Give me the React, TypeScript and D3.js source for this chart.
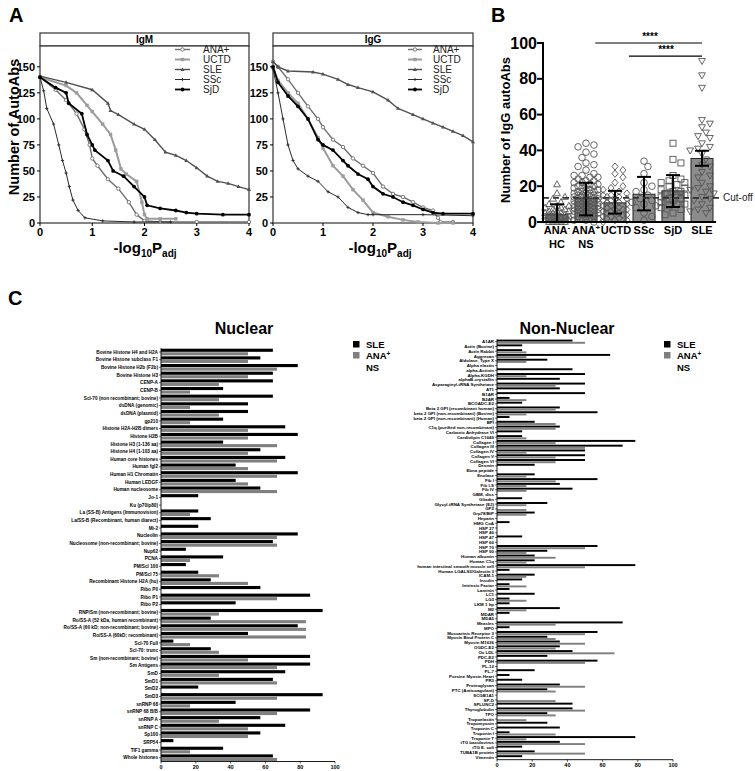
import React from "react";
import * as d3 from "d3";

const FONT = "'Liberation Sans', Arial, Helvetica, sans-serif";

// ---------------- Panel A data ----------------
const curveNames = ["ANA+", "UCTD", "SLE", "SSc", "SjD"];
const igmANA: [number, number][] = [[0,140],[0.3,128],[0.5,118],[0.7,105],[0.85,90],[0.95,75],[1.0,62],[1.1,55],[1.3,42],[1.5,33],[1.7,20],[1.85,8],[2.0,2],[2.3,1],[3.0,1],[4.0,1]];
const igmUCTD: [number, number][] = [[0,140],[0.5,132],[0.7,125],[0.9,113],[1.0,107],[1.2,95],[1.35,85],[1.45,70],[1.55,52],[1.65,47],[1.85,40],[1.95,20],[2.0,8],[2.05,4],[2.3,4],[2.6,4]];
const igmSLE: [number, number][] = [[0,141],[0.5,135],[1.0,128],[1.3,115],[1.35,108],[1.5,104],[1.8,95],[2.0,90],[2.2,80],[2.4,68],[2.6,65],[2.8,60],[3.0,53],[3.2,45],[3.4,40],[3.6,38],[3.8,35],[4.0,32]];
const igmSSc: [number, number][] = [[0,140],[0.07,127],[0.13,110],[0.26,95],[0.36,75],[0.43,60],[0.5,48],[0.56,35],[0.63,22],[0.73,12],[0.86,5],[1.2,2],[1.8,1],[2.5,1]];
const igmSjD: [number, number][] = [[0,140],[0.3,130],[0.5,125],[0.55,115],[0.8,105],[0.9,85],[1.0,75],[1.05,70],[1.3,60],[1.4,50],[1.6,45],[1.8,35],[2.0,25],[2.05,17],[2.3,14],[2.6,12],[2.8,10],[3.0,9],[3.5,8],[4.0,8]];

const iggANA: [number, number][] = [[0,155],[0.1,150],[0.3,138],[0.5,125],[0.7,112],[0.9,100],[1.0,92],[1.2,80],[1.4,73],[1.6,62],[1.8,55],[2.0,48],[2.2,35],[2.4,28],[2.6,25],[2.8,20],[3.0,15],[3.2,12],[3.3,5],[3.35,1],[3.6,1]];
const iggUCTD: [number, number][] = [[0,150],[0.1,137],[0.3,125],[0.5,115],[0.7,100],[0.9,82],[1.0,72],[1.2,55],[1.4,45],[1.6,32],[1.8,22],[2.0,10],[2.3,6],[2.6,3],[2.9,1],[3.3,0],[3.6,0]];
const iggSLE: [number, number][] = [[0,155],[0.1,150],[0.3,146],[0.8,145],[1.0,143],[1.3,138],[1.5,133],[1.7,130],[2.0,126],[2.3,118],[2.5,110],[2.8,104],[3.0,100],[3.2,96],[3.4,92],[3.6,88],[3.8,84],[4.0,78]];
const iggSSc: [number, number][] = [[0,148],[0.1,125],[0.2,100],[0.3,75],[0.4,60],[0.5,52],[0.7,45],[0.9,40],[1.1,30],[1.3,25],[1.5,15],[1.7,10],[1.9,8],[2.0,8],[3.0,8],[4.0,7]];
const iggSjD: [number, number][] = [[0,150],[0.1,135],[0.3,122],[0.5,112],[0.7,100],[0.9,80],[1.0,75],[1.2,70],[1.4,60],[1.5,55],[1.7,47],[1.9,42],[2.0,35],[2.2,28],[2.4,25],[2.6,20],[2.8,17],[3.0,13],[3.2,10],[3.4,9],[4.0,9]];

const aTicksY = [0, 25, 50, 75, 100, 125, 150];
const aTicksX = [0, 1, 2, 3, 4];

// ---------------- Panel B data ----------------
const bGroups = ["ANA-HC", "ANA+NS", "UCTD", "SSc", "SjD", "SLE"];
const bMeans = [4.1, 13.1, 10.7, 15.5, 17.4, 35.5];
const bLow = [0, 3.7, 4.7, 6.5, 8.4, 31.4];
const bHigh = [9.9, 21.9, 17.4, 25.2, 26.2, 39.8];
const bHC = [21, 16, 14, 13, 11, 10, 9, 9, 8, 8, 7, 7, 6, 6, 6, 5, 5, 5, 4, 4, 4, 3, 3, 3, 3, 2, 2, 2, 2, 1, 1, 1, 1, 0, 0, 0, 0, 0];
const bNS = [44, 43, 42, 39, 38, 36, 33, 32, 31, 29, 27, 26, 26, 25, 25, 24, 23, 23, 22, 22, 21, 21, 20, 20, 20, 19, 19, 18, 18, 18, 17, 17, 17, 16, 16, 16, 15, 15, 15, 15, 14, 14, 14, 14, 13, 13, 13, 13, 12, 12, 12, 12, 11, 11, 11, 11, 10, 10, 10, 10, 9, 9, 9, 9, 8, 8, 8, 8, 7, 7, 7, 7, 6, 6, 6, 6, 5, 5, 5, 5, 4, 4, 4, 3, 3, 3, 2, 2, 2, 1, 1, 0];
const bUCTD = [31, 29, 27, 25, 22, 20, 19, 18, 17, 16, 15, 15, 14, 14, 13, 13, 12, 12, 11, 11, 10, 10, 9, 9, 8, 8, 7, 7, 7, 6, 6, 5, 5, 5, 4, 4, 3, 3, 2, 2, 1, 1, 0];
const bSSc = [34, 31, 27, 22, 20, 18, 17, 15, 13, 12, 11, 10, 9, 8, 5, 3, 1];
const bSjD = [44, 35, 33, 26, 24, 23, 22, 22, 21, 20, 19, 18, 17, 17, 16, 15, 15, 14, 13, 13, 12, 11, 10, 10, 9, 8, 7, 5, 4];
const bSLE = [90, 82, 75, 57, 55, 53, 50, 48, 47, 44, 42, 41, 40, 38, 35, 32, 31, 28, 26, 25, 22, 20, 19, 18, 17, 16, 14, 13, 12, 10, 8, 7, 6, 5];
const bTicks = [0, 20, 40, 60, 80, 100];
const bCutoff = 13.5;

// ---------------- Panel C data ----------------
const nucLabels = [
  "Bovine Histone H4 and H2A", "Bovine Histone subclass F1", "Bovine Histone H2b (F2b)", "Bovine Histone H3",
  "CENP-A", "CENP-B", "Scl-70 (non recombinant; bovine)", "dsDNA (genomic)", "dsDNA (plasmid)", "gp210",
  "Histone H2A-H2B dimers", "Histone H2B", "Histone H3 (1-136 aa)", "Histone H4 (1-103 aa)", "Human core histones",
  "Human fgl2", "Human H1 Chromatin", "Human LEDGF", "Human nucleosome", "Jo-1", "Ku (p70/p80)",
  "La (SS-B) Antigens (Immunovision)", "La/SS-B (Recombinant, human diarect)", "Mi-2", "Nucleolin",
  "Nucleosome (non-recombinant; bovine)", "Nup62", "PCNA", "PM/Scl 100", "PM/Scl 75", "Recombinant Histone H2A (hu)",
  "Ribo P0", "Ribo P1", "Ribo P2", "RNP/Sm (non-recombinant; bovine)", "Ro/SS-A (52 kDa, human recombinant)",
  "Ro/SS-A (60 kD; non-recombinant; bovine)", "Ro/SS-A (60kD; recombinant)", "Scl-70 Full", "Scl-70: trunc",
  "Sm (non-recombinant; bovine)", "Sm Antigens", "SmD", "SmD1", "SmD2", "SmD3", "snRNP 68", "snRNP 68 B/B",
  "snRNP A", "snRNP C", "Sp100", "SRP54", "TIF1 gamma", "Whole histones",
];
const nucSLE = [64.3, 57.1, 78.6, 64.3, 64.3, 35.7, 64.3, 50, 50, 35.7, 71.4, 78.6, 35.7, 57.1, 71.4, 42.9, 78.6, 42.9, 57.1, 21.4, 0, 21.4, 28.6, 21.4, 78.6, 64.3, 14.3, 35.7, 14.3, 21.4, 28.6, 57.1, 85.7, 42.9, 92.9, 28.6, 78.6, 50, 7.1, 28.6, 85.7, 85.7, 71.4, 64.3, 21.4, 92.9, 42.9, 85.7, 57.1, 71.4, 57.1, 7.1, 35.7, 64.3];
const nucANA = [50, 50, 66.7, 50, 33.3, 16.7, 33.3, 16.7, 33.3, 16.7, 50, 50, 66.7, 50, 66.7, 50, 66.7, 50, 66.7, 0, 0, 16.7, 0, 0, 66.7, 66.7, 0, 16.7, 0, 33.3, 50, 0, 66.7, 0, 33.3, 83.3, 83.3, 83.3, 16.7, 33.3, 50, 66.7, 33.3, 66.7, 0, 66.7, 16.7, 66.7, 33.3, 50, 50, 0, 16.7, 66.7];

const nonLabels = [
  "A1AR", "Actin (Bovine)", "Actin Rabbit", "Aggrecan", "Aldolase, Type X", "Alpha elastin", "alpha-Actinin",
  "Alpha-KGDH", "alphaB-crystallin", "Asparaginyl-tRNA Synthetase", "AT1", "B1AR", "B2AR", "BCOADC-E2",
  "Beta 2 GPI (recombinant human)", "beta 2 GPI (non-recombinant) (Bovine)", "beta 2 GPI (non-recombinant) (Human)",
  "BPI", "C1q (purified non-recombinant)", "Carbonic Anhydrase VI", "Cardiolipin C1649", "Collagen I", "Collagen III",
  "Collagen IV", "Collagen V", "Collagen VI", "Desmin", "Ebna peptide", "Enolase", "Fib I", "Fib I-S", "Fib IV",
  "GBM, diss", "Gliadin", "Glycyl-tRNA Synthetase (EJ)", "GP2", "Grp78/BiP", "Heparin", "HMG CoA", "HSP 27",
  "HSP 40", "HSP 47", "HSP 60", "HSP 70", "HSP 90", "Human albumin", "Human C1q", "human intestinal smooth muscle cell",
  "Human LGALS3/Galectin 3", "ICAM-1", "Insulin", "Intrinsic Factor", "Laminin", "LC1", "LG3", "LKM 1 hp", "M2",
  "MDAR", "MDA5", "Measles", "MPO", "Muscarinic Receptor 3", "Myosin Bind Protein C", "Myosin M1636", "OGDC-E2",
  "Ox LDL", "PDC-E2", "PDH", "PL-12", "PL-7", "Porcine Myosin Heart", "PR3", "Proteoglycan", "PTC (Anticoagulant)",
  "SCGB1A1", "SP-D", "SPLUNC2", "Thyroglobulin", "TPO", "Tropoelastin", "Tropomyosin", "Troponin C", "Troponin I",
  "Troponin T", "tTG baculovirus", "tTG E. coli", "TUBA1B protein", "Vimentin",
];
const nonSLE = [42.9, 14.3, 14.3, 64.3, 28.6, 0, 42.9, 50, 35.7, 50, 35.7, 50, 7.1, 14.3, 35.7, 57.1, 7.1, 21.4, 35.7, 14.3, 14.3, 78.6, 71.4, 50, 50, 50, 21.4, 0, 21.4, 57.1, 35.7, 42.9, 0, 14.3, 28.6, 0, 21.4, 0, 7.1, 0, 0, 14.3, 0, 57.1, 28.6, 21.4, 21.4, 78.6, 7.1, 21.4, 14.3, 7.1, 7.1, 21.4, 7.1, 7.1, 35.7, 7.1, 0, 71.4, 7.1, 57.1, 28.6, 35.7, 35.7, 42.9, 28.6, 57.1, 0, 21.4, 7.1, 14.3, 35.7, 28.6, 0, 0, 42.9, 42.9, 28.6, 0, 28.6, 35.7, 7.1, 78.6, 35.7, 14.3, 21.4, 14.3];
const nonANA = [50, 0, 16.7, 16.7, 16.7, 0, 0, 16.7, 0, 33.3, 0, 0, 16.7, 0, 33.3, 16.7, 0, 33.3, 33.3, 0, 16.7, 33.3, 50, 16.7, 33.3, 33.3, 0, 0, 16.7, 33.3, 16.7, 16.7, 0, 0, 16.7, 16.7, 16.7, 0, 0, 0, 0, 0, 0, 50, 16.7, 33.3, 16.7, 50, 0, 16.7, 0, 16.7, 0, 0, 16.7, 0, 16.7, 0, 0, 33.3, 0, 50, 33.3, 50, 33.3, 66.7, 0, 50, 0, 0, 0, 0, 50, 33.3, 0, 33.3, 0, 50, 33.3, 16.7, 0, 0, 33.3, 16.7, 50, 0, 50, 0];
const cTicks = [0, 20, 40, 60, 80, 100];

// ---------------- Styles ----------------
const curveColors = ["#6e6e6e", "#9c9c9c", "#505050", "#2a2a2a", "#000000"];
const curveMarkers = ["circleOpen", "square", "triangle", "plus", "circle"];
const curveWidths = [1.4, 2, 1.4, 1, 1.8];
const bShapes = ["triUp", "circle", "diamond", "circle", "square", "triDown"];

function Marker({ type, x, y, color, s = 1 }: any) {
  switch (type) {
    case "circleOpen":
      return <circle cx={x} cy={y} r={1.7 * s} fill="#fff" stroke={color} strokeWidth={0.9} />;
    case "square":
      return <rect x={x - 1.7 * s} y={y - 1.7 * s} width={3.4 * s} height={3.4 * s} fill={color} />;
    case "triangle":
      return <path d={`M${x},${y - 2.1 * s}L${x + 2 * s},${y + 1.4 * s}L${x - 2 * s},${y + 1.4 * s}Z`} fill={color} />;
    case "plus":
      return <path d={`M${x - 1.6 * s},${y}H${x + 1.6 * s}M${x},${y - 1.6 * s}V${y + 1.6 * s}`} stroke={color} strokeWidth={0.9} />;
    default:
      return <circle cx={x} cy={y} r={1.9 * s} fill={color} />;
  }
}

function CurvePanel({ left, right, title, curves, legLine, legText, titleX }: any) {
  const stripTop = 33, top = 46, bottom = 223;
  const x = d3.scaleLinear().domain([0, 4]).range([left, right]);
  const y = d3.scaleLinear().domain([0, 170]).range([bottom, top]);
  const line = d3.line<[number, number]>().x((d) => x(d[0])).y((d) => y(d[1]));
  const legY = [49.5, 59.5, 69.5, 79.5, 89.5];
  const order = [0, 1, 2, 3, 4];
  return (
    <g>
      <rect x={left} y={stripTop} width={right - left} height={top - stripTop} fill="#fff" stroke="#333" strokeWidth={1.2} />
      <text x={(left + right) / 2} y={top - 3.5} textAnchor="middle" fontWeight="bold" fontSize={10}>{title}</text>
      <rect x={left} y={top} width={right - left} height={bottom - top} fill="#fff" stroke="#333" strokeWidth={1.2} />
      {order.map((i) => (
        <g key={i}>
          <path d={line(curves[i]) || ""} fill="none" stroke={curveColors[i]} strokeWidth={curveWidths[i]} />
          {curves[i].map((p: [number, number], j: number) => (
            <Marker key={j} type={curveMarkers[i]} x={x(p[0])} y={y(p[1])} color={curveColors[i]} />
          ))}
        </g>
      ))}
      {curveNames.map((n, i) => (
        <g key={n}>
          <line x1={legLine[0]} x2={legLine[1]} y1={legY[i]} y2={legY[i]} stroke={curveColors[i]} strokeWidth={curveWidths[i]} />
          <Marker type={curveMarkers[i]} x={(legLine[0] + legLine[1]) / 2} y={legY[i]} color={curveColors[i]} />
          <text x={legText} y={legY[i] + 3.5} fontSize={10} fill="#222">{n}</text>
        </g>
      ))}
      {aTicksY.map((t) => (
        <g key={t}>
          <line x1={left - 3} x2={left} y1={y(t)} y2={y(t)} stroke="#000" />
          <text x={left - 5} y={y(t) + 4} textAnchor="end" fontWeight="bold" fontSize={11}>{t}</text>
        </g>
      ))}
      {aTicksX.map((t) => (
        <g key={t}>
          <line x1={x(t)} x2={x(t)} y1={bottom} y2={bottom + 3} stroke="#000" />
          <text x={x(t)} y={bottom + 13} textAnchor="middle" fontWeight="bold" fontSize={11}>{t}</text>
        </g>
      ))}
      <text x={titleX} y={253} textAnchor="middle" fontWeight="bold" fontSize={15}>
        -log<tspan fontSize={10} dy={4}>10</tspan><tspan dy={-4}>P</tspan><tspan fontSize={10} dy={4}>adj</tspan>
      </text>
    </g>
  );
}

function swarm(vals: number[], y: any, cx: number, d: number, maxHalf: number) {
  const placed: { x: number; y: number }[] = [];
  const sorted = [...vals].sort((a, b) => b - a);
  for (const v of sorted) {
    const py = y(v);
    let best = cx, bestScore = -1;
    let found = false;
    for (let k = 0; k < 30; k++) {
      const off = k === 0 ? 0 : (k % 2 ? 1 : -1) * Math.ceil(k / 2) * d * 0.6;
      if (Math.abs(off) > maxHalf) continue;
      const cand = cx + off;
      let minD = Infinity;
      for (const p of placed) minD = Math.min(minD, Math.hypot(p.x - cand, p.y - py));
      if (minD >= d * 0.85) { best = cand; found = true; break; }
      if (minD > bestScore) { bestScore = minD; best = cand; }
    }
    if (!found && bestScore < 0) best = cx;
    placed.push({ x: best, y: py });
  }
  return placed;
}

function PointShape({ type, x, y }: any) {
  const c = "#555";
  const sw = 0.9;
  switch (type) {
    case "triUp":
      return <path d={`M${x},${y - 3.6}L${x + 3.4},${y + 2.4}L${x - 3.4},${y + 2.4}Z`} fill="none" stroke={c} strokeWidth={sw} />;
    case "triDown":
      return <path d={`M${x},${y + 3.6}L${x + 3.4},${y - 2.4}L${x - 3.4},${y - 2.4}Z`} fill="none" stroke={c} strokeWidth={sw} />;
    case "diamond":
      return <path d={`M${x},${y - 3.6}L${x + 3},${y}L${x},${y + 3.6}L${x - 3},${y}Z`} fill="none" stroke={c} strokeWidth={sw} />;
    case "square":
      return <rect x={x - 3} y={y - 3} width={6} height={6} fill="none" stroke={c} strokeWidth={sw} />;
    default:
      return <circle cx={x} cy={y} r={3.3} fill="none" stroke={c} strokeWidth={sw} />;
  }
}

function PanelB() {
  const x = d3.scalePoint<string>().domain(bGroups).range([557, 702]);
  const y = d3.scaleLinear().domain([0, 100]).range([222, 43]);
  const groups = [bHC, bNS, bUCTD, bSSc, bSjD, bSLE];
  const barW = 22;
  const axisX = 543;
  const step = x.step();
  return (
    <g>
      {bGroups.map((g, i) => (
        <rect key={g} x={(x(g) as number) - barW / 2} y={y(bMeans[i])} width={barW} height={y(0) - y(bMeans[i])} fill="#8c8c8c" stroke="#222" strokeWidth={1} />
      ))}
      {groups.map((vals, i) => {
        const pts = swarm(vals, y, x(bGroups[i]) as number, 6.6, 12);
        return (
          <g key={i}>
            {pts.map((p, j) => <PointShape key={j} type={bShapes[i]} x={p.x} y={p.y} />)}
          </g>
        );
      })}
      {bGroups.map((g, i) => {
        const cx = x(g) as number;
        return (
          <g key={g} stroke="#000" strokeWidth={2}>
            <line x1={cx} x2={cx} y1={y(bLow[i])} y2={y(bHigh[i])} />
            <line x1={cx - 7} x2={cx + 7} y1={y(bHigh[i])} y2={y(bHigh[i])} />
            {bLow[i] > 0 && <line x1={cx - 7} x2={cx + 7} y1={y(bLow[i])} y2={y(bLow[i])} />}
          </g>
        );
      })}
      <line x1={axisX} x2={720} y1={y(bCutoff)} y2={y(bCutoff)} stroke="#333" strokeWidth={1.8} strokeDasharray="6,4" />
      <text x={723} y={y(bCutoff) + 3.5} fontSize={10} fill="#222">Cut-off</text>
      <line x1={axisX} x2={axisX} y1={y(0) + 1} y2={y(100) - 1} stroke="#000" strokeWidth={2} />
      <line x1={axisX} x2={716} y1={y(0)} y2={y(0)} stroke="#000" strokeWidth={2} />
      {bTicks.map((t) => (
        <g key={t}>
          <line x1={axisX - 6} x2={axisX} y1={y(t)} y2={y(t)} stroke="#000" strokeWidth={2} />
          <text x={axisX - 6} y={y(t) + 5.5} textAnchor="end" fontWeight="bold" fontSize={16}>{t}</text>
        </g>
      ))}
      <line x1={(x("ANA+NS") as number) + step * 0.32} x2={x("SLE") as number} y1={y(100)} y2={y(100)} stroke="#000" strokeWidth={1.2} />
      <text x={650} y={40} textAnchor="middle" fontWeight="bold" fontSize={10}>****</text>
      <line x1={(x("UCTD") as number) + step * 0.48} x2={x("SLE") as number} y1={y(92.7)} y2={y(92.7)} stroke="#000" strokeWidth={1.2} />
      <text x={666} y={53} textAnchor="middle" fontWeight="bold" fontSize={10}>****</text>
      {/* category labels */}
      <g fontWeight="bold" fontSize={11} textAnchor="middle">
        <text x={x("ANA-HC")} y={234}>ANA<tspan fontSize={8} dy={-4}>-</tspan></text>
        <text x={x("ANA-HC")} y={248}>HC</text>
        <text x={x("ANA+NS")} y={234}>ANA<tspan fontSize={8} dy={-4}>+</tspan></text>
        <text x={x("ANA+NS")} y={248}>NS</text>
        <text x={(x("UCTD") as number) + 1} y={234}>UCTD</text>
        <text x={x("SSc")} y={234}>SSc</text>
        <text x={x("SjD")} y={234}>SjD</text>
        <text x={x("SLE")} y={234}>SLE</text>
      </g>
      <text transform="translate(510,130) rotate(-90)" textAnchor="middle" fontWeight="bold" fontSize={13}>Number of IgG autoAbs</text>
    </g>
  );
}

function HBarChart({ labels, sle, ana, axisX, x100, top, stepH, fontSize, titleX, title, legX }: any) {
  const n = labels.length;
  const yb = d3.scaleBand<string>().domain(labels).range([top, top + n * stepH]);
  const x = d3.scaleLinear().domain([0, 100]).range([axisX, x100]);
  const bottom = top + n * stepH;
  const bw = yb.bandwidth();
  const sub = d3.scaleBand<string>().domain(["SLE", "ANA"]).range([0, bw]).paddingInner(0.12).paddingOuter(0.14);
  return (
    <g>
      <text x={titleX} y={334} textAnchor="middle" fontWeight="bold" fontSize={16}>{title}</text>
      {labels.map((l: string, i: number) => {
        const y0 = yb(l) as number;
        const c = y0 + bw / 2;
        return (
          <g key={l}>
            {sle[i] > 0 && <rect x={axisX} y={y0 + (sub("SLE") as number)} width={x(sle[i]) - axisX} height={sub.bandwidth()} fill="#000" />}
            {ana[i] > 0 && <rect x={axisX} y={y0 + (sub("ANA") as number)} width={x(ana[i]) - axisX} height={sub.bandwidth()} fill="#808080" />}
            <line x1={axisX - 2} x2={axisX} y1={c} y2={c} stroke="#000" strokeWidth={0.6} />
            <text x={axisX - 3} y={c + fontSize * 0.35} textAnchor="end" fontWeight="bold" fontSize={fontSize}>{l}</text>
          </g>
        );
      })}
      <line x1={axisX} x2={axisX} y1={top} y2={bottom} stroke="#000" strokeWidth={0.9} />
      <line x1={axisX} x2={x100} y1={bottom} y2={bottom} stroke="#000" strokeWidth={0.9} />
      {cTicks.map((t) => (
        <g key={t}>
          <line x1={x(t)} x2={x(t)} y1={bottom} y2={bottom + 2} stroke="#000" strokeWidth={0.7} />
          <text x={x(t)} y={bottom + 7.5} textAnchor="middle" fontWeight="bold" fontSize={5.5}>{t}</text>
        </g>
      ))}
      <rect x={legX} y={341} width={6.5} height={6.5} fill="#000" />
      <text x={legX + 13} y={347.5} fontWeight="bold" fontSize={9.5}>SLE</text>
      <rect x={legX} y={352} width={6.5} height={6.5} fill="#808080" />
      <text x={legX + 13} y={359} fontWeight="bold" fontSize={9.5}>ANA<tspan fontSize={6.5} dy={-3.5}>+</tspan></text>
      <text x={legX + 13} y={371} fontWeight="bold" fontSize={9.5}>NS</text>
    </g>
  );
}

export default function App() {
  return (
    <svg width={755} height={771} style={{ position: "absolute", left: 0, top: 0, background: "#fff" }} fontFamily={FONT}>
      <rect width={755} height={771} fill="#fff" />
      <text x={9} y={22} fontWeight="bold" fontSize={20}>A</text>
      <text x={491} y={22} fontWeight="bold" fontSize={20}>B</text>
      <text x={8} y={305} fontWeight="bold" fontSize={20}>C</text>
      <text transform="translate(19,127) rotate(-90)" textAnchor="middle" fontWeight="bold" fontSize={14.5}>Number of AutoAbs</text>
      <CurvePanel left={40} right={249} title="IgM" curves={[igmANA, igmUCTD, igmSLE, igmSSc, igmSjD]} legLine={[175, 190]} legText={203} titleX={145} />
      <CurvePanel left={273} right={473} title="IgG" curves={[iggANA, iggUCTD, iggSLE, iggSSc, iggSjD]} legLine={[408, 422]} legText={433} titleX={380} />
      <PanelB />
      <HBarChart labels={nucLabels} sle={nucSLE} ana={nucANA} axisX={161} x100={335} top={348.2} stepH={7.654} fontSize={4.7} titleX={244} title="Nuclear" legX={353} />
      <HBarChart labels={nonLabels} sle={nonSLE} ana={nonANA} axisX={497} x100={673} top={339.3} stepH={4.777} fontSize={4.4} titleX={567} title="Non-Nuclear" legX={664} />
    </svg>
  );
}
